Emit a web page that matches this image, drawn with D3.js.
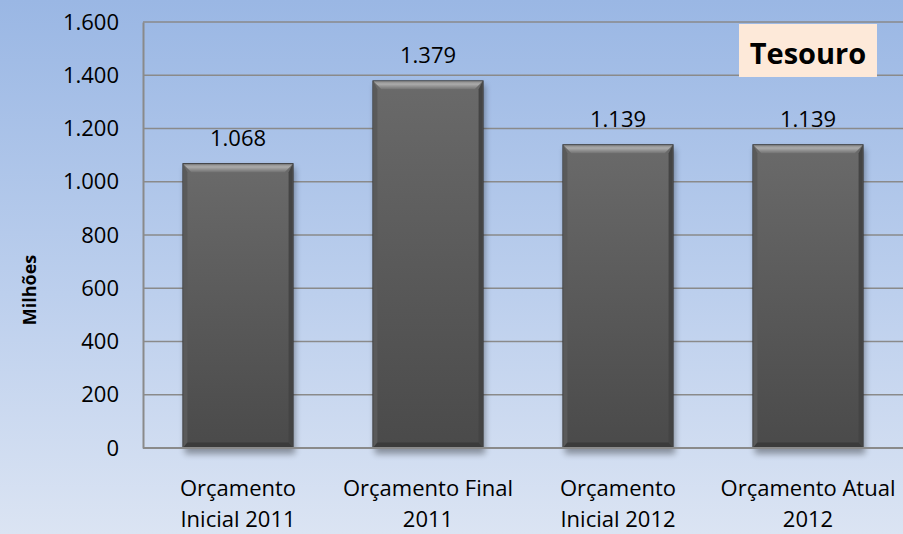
<!DOCTYPE html>
<html>
<head>
<meta charset="utf-8">
<script src="https://cdn.jsdelivr.net/npm/d3@7"></script>
<style>
  html, body { margin: 0; padding: 0; background: #fff; }
  svg text { font-family: "Open Sans", "Noto Sans", sans-serif; fill: #000; }
</style>
</head>
<body>
<div id="chart"></div>
<script>
// chart data
var categories = [
    ["Orçamento", "Inicial 2011"],
    ["Orçamento Final", "2011"],
    ["Orçamento", "Inicial 2012"],
    ["Orçamento Atual", "2012"]
];
var values = [1068, 1379, 1139, 1139];
var valueLabels = ["1.068", "1.379", "1.139", "1.139"];
var yTicks = [0, 200, 400, 600, 800, 1000, 1200, 1400, 1600];
var yTickLabels = ["0", "200", "400", "600", "800", "1.000", "1.200", "1.400", "1.600"];
var yTitle = "Milhões";
var boxTitle = "Tesouro";

// set the dimensions and margins of the graph
var vW = 903, vH = 534;
var vMargin = { mTop: 22, mRight: 0, mBottom: 86, mLeft: 143 };
var vWidth = vW - vMargin.mLeft - vMargin.mRight,
    vHeight = vH - vMargin.mTop - vMargin.mBottom;

var svg = d3.select("#chart")
    .append("svg")
    .attr("width", vW)
    .attr("height", vH);

var defs = svg.append("defs");

// background gradient
var bg = defs.append("linearGradient").attr("id", "bg")
    .attr("x1", 0).attr("y1", 0).attr("x2", 0).attr("y2", 1);
bg.append("stop").attr("offset", "0%").attr("stop-color", "#9ab7e4");
bg.append("stop").attr("offset", "55%").attr("stop-color", "#bccfed");
bg.append("stop").attr("offset", "100%").attr("stop-color", "#dbe4f3");

// bar face gradient
var face = defs.append("linearGradient").attr("id", "face")
    .attr("x1", 0).attr("y1", 0).attr("x2", 0).attr("y2", 1);
face.append("stop").attr("offset", "0%").attr("stop-color", "#6a6a6a");
face.append("stop").attr("offset", "100%").attr("stop-color", "#4a4a4a");

var topBevel = defs.append("linearGradient").attr("id", "topBevel")
    .attr("x1", 0).attr("y1", 0).attr("x2", 0).attr("y2", 1);
topBevel.append("stop").attr("offset", "0%").attr("stop-color", "#8a8a8a");
topBevel.append("stop").attr("offset", "35%").attr("stop-color", "#ababab");
topBevel.append("stop").attr("offset", "100%").attr("stop-color", "#727272");

var shadow = defs.append("filter").attr("id", "shadow")
    .attr("x", "-10%").attr("y", "-10%").attr("width", "120%").attr("height", "120%");
shadow.append("feGaussianBlur").attr("stdDeviation", 3);

svg.append("rect")
    .attr("width", vW).attr("height", vH)
    .attr("fill", "url(#bg)");

var g = svg.append("g")
    .attr("transform", "translate(" + vMargin.mLeft + "," + vMargin.mTop + ")");

// scales
var x = d3.scaleBand()
    .domain(d3.range(categories.length))
    .range([0, vWidth])
    .paddingInner(0.42)
    .paddingOuter(0.21);

var y = d3.scaleLinear()
    .domain([0, 1600])
    .range([vHeight, 0]);

// gridlines
g.selectAll(".grid")
    .data(yTicks.slice(1))
    .enter()
    .append("line")
    .attr("x1", 0).attr("x2", vWidth)
    .attr("y1", function (d) { return y(d); })
    .attr("y2", function (d) { return y(d); })
    .attr("stroke", "#8a8a8a")
    .attr("stroke-width", 1.5);

// y axis
var yAxis = g.append("g")
    .call(d3.axisLeft(y)
        .tickValues(yTicks)
        .tickSize(0)
        .tickPadding(24)
        .tickFormat(function (d, i) { return yTickLabels[i]; }));
yAxis.select(".domain").attr("stroke", "#8a8a8a").attr("stroke-width", 2);
yAxis.selectAll("text")
    .style("font-size", "22px")
    .style("font-family", "'Open Sans', sans-serif")
    .attr("fill", "#000");

// bars
var bars = g.selectAll(".bar")
    .data(values)
    .enter()
    .append("g")
    .attr("class", "bar");

bars.append("rect")
    .attr("x", function (d, i) { return x(i) + 2; })
    .attr("y", function (d) { return y(d) + 4; })
    .attr("width", x.bandwidth())
    .attr("height", function (d) { return vHeight - y(d) + 2; })
    .attr("fill", "#000")
    .attr("opacity", 0.35)
    .attr("filter", "url(#shadow)");

bars.append("rect")
    .attr("x", function (d, i) { return x(i); })
    .attr("y", function (d) { return y(d); })
    .attr("width", x.bandwidth())
    .attr("height", function (d) { return vHeight - y(d); })
    .attr("fill", "url(#face)")
    .attr("stroke", "#3a3a3a")
    .attr("stroke-width", 1);

// top bevel
bars.append("path")
    .attr("d", function (d, i) {
        var x0 = x(i) + 0.5, x1 = x(i) + x.bandwidth() - 0.5, y0 = y(d) + 0.5, b = 8;
        return "M" + x0 + "," + y0 + "L" + x1 + "," + y0 +
            "L" + (x1 - b) + "," + (y0 + b) + "L" + (x0 + b) + "," + (y0 + b) + "Z";
    })
    .attr("fill", "url(#topBevel)");

// side bevels
bars.append("path")
    .attr("d", function (d, i) {
        var x0 = x(i) + 0.5, y0 = y(d) + 0.5, y1 = vHeight - 0.5, b = 4;
        return "M" + x0 + "," + y0 + "L" + (x0 + b) + "," + (y0 + 8) +
            "L" + (x0 + b) + "," + (y1 - 5) + "L" + x0 + "," + y1 + "Z";
    })
    .attr("fill", "#5a5a5a");
bars.append("path")
    .attr("d", function (d, i) {
        var x1 = x(i) + x.bandwidth() - 0.5, y0 = y(d) + 0.5, y1 = vHeight - 0.5, b = 4;
        return "M" + x1 + "," + y0 + "L" + (x1 - b) + "," + (y0 + 8) +
            "L" + (x1 - b) + "," + (y1 - 5) + "L" + x1 + "," + y1 + "Z";
    })
    .attr("fill", "#444");

// bottom bevel
bars.append("path")
    .attr("d", function (d, i) {
        var x0 = x(i) + 0.5, x1 = x(i) + x.bandwidth() - 0.5, y1 = vHeight - 0.5, b = 5;
        return "M" + x0 + "," + y1 + "L" + x1 + "," + y1 +
            "L" + (x1 - 4) + "," + (y1 - b) + "L" + (x0 + 4) + "," + (y1 - b) + "Z";
    })
    .attr("fill", "#3b3b3b");

// bottom axis line
g.append("line")
    .attr("x1", 0).attr("x2", vWidth)
    .attr("y1", vHeight).attr("y2", vHeight)
    .attr("stroke", "#8a8a8a")
    .attr("stroke-width", 2);

// value labels
g.selectAll(".val")
    .data(values)
    .enter()
    .append("text")
    .attr("x", function (d, i) { return x(i) + x.bandwidth() / 2; })
    .attr("y", function (d) { return y(d) - 18; })
    .attr("text-anchor", "middle")
    .style("font-size", "22px")
    .text(function (d, i) { return valueLabels[i]; });

// category labels
var cat = g.selectAll(".cat")
    .data(categories)
    .enter()
    .append("text")
    .attr("text-anchor", "middle")
    .attr("x", function (d, i) { return x(i) + x.bandwidth() / 2; })
    .style("font-size", "22px");
cat.append("tspan")
    .attr("x", function (d, i) { return x(i) + x.bandwidth() / 2; })
    .attr("y", vHeight + 48)
    .text(function (d) { return d[0]; });
cat.append("tspan")
    .attr("x", function (d, i) { return x(i) + x.bandwidth() / 2; })
    .attr("y", vHeight + 79)
    .text(function (d) { return d[1]; });

// y title
svg.append("text")
    .attr("transform", "translate(36,290) rotate(-90)")
    .attr("text-anchor", "middle")
    .style("font-size", "18px")
    .style("font-weight", "bold")
    .text(yTitle);

// title box
svg.append("rect")
    .attr("x", 739).attr("y", 24)
    .attr("width", 138).attr("height", 53)
    .attr("fill", "#fde9d9");
svg.append("text")
    .attr("x", 808).attr("y", 64)
    .attr("text-anchor", "middle")
    .style("font-size", "29px")
    .style("font-weight", "bold")
    .text(boxTitle);
</script>
</body>
</html>
